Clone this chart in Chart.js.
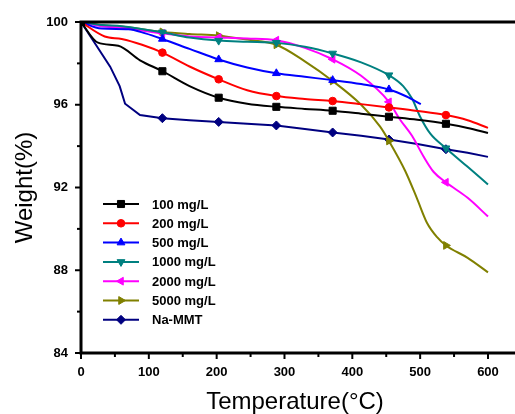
<!DOCTYPE html>
<html>
<head>
<meta charset="utf-8">
<script src="https://cdn.jsdelivr.net/npm/chart.js@4"></script>
<style>
  html, body { margin: 0; padding: 0; background: #fff; overflow: hidden; }
  canvas { display: block; }
</style>
</head>
<body>
<canvas id="tga" width="515" height="414"></canvas>
<script>
// temperatures (°C) and weight (%)
const t100 = [0, 25, 55, 87, 120, 160, 203, 245, 288, 330, 371, 413, 454, 496, 538, 570, 600];
const w100 = [100, 99.0, 98.85, 98.15, 97.62, 96.9, 96.34, 96.05, 95.9, 95.8, 95.71, 95.57, 95.42, 95.27, 95.08, 94.88, 94.63];

const t200 = [0, 35, 60, 90, 120, 160, 203, 245, 288, 330, 371, 413, 454, 496, 538, 570, 600];
const w200 = [100, 99.3, 99.18, 98.9, 98.52, 97.85, 97.23, 96.7, 96.42, 96.28, 96.18, 96.03, 95.87, 95.7, 95.5, 95.25, 94.88];

const t500 = [0, 30, 70, 95, 120, 160, 203, 245, 288, 330, 371, 413, 454, 480, 501];
const w500 = [100, 99.68, 99.65, 99.45, 99.18, 98.7, 98.19, 97.8, 97.52, 97.35, 97.19, 97.0, 96.74, 96.4, 96.03];

const t1000 = [0, 30, 60, 120, 160, 203, 245, 288, 330, 371, 413, 454, 475, 488, 500, 515, 538, 570, 600];
const w1000 = [100, 99.85, 99.8, 99.5, 99.25, 99.1, 99.05, 99.0, 98.8, 98.48, 98.05, 97.43, 96.9, 96.3, 95.42, 94.6, 93.9, 93.0, 92.15];

const t2000 = [0, 30, 60, 120, 160, 203, 245, 288, 330, 371, 413, 454, 470, 488, 505, 520, 538, 570, 600];
const w2000 = [100, 99.8, 99.72, 99.45, 99.3, 99.25, 99.2, 99.12, 98.75, 98.2, 97.4, 96.14, 95.3, 94.5, 93.5, 92.75, 92.25, 91.5, 90.6];

const t5000 = [0, 30, 60, 120, 160, 203, 245, 288, 330, 371, 413, 441, 454, 478, 495, 510, 525, 538, 570, 600];
const w5000 = [100, 99.85, 99.78, 99.52, 99.42, 99.34, 99.15, 98.9, 98.1, 97.15, 96.0, 94.94, 94.25, 92.8, 91.5, 90.3, 89.6, 89.2, 88.6, 87.9];

const tMMT = [0, 20, 43, 57, 65, 87, 120, 160, 203, 245, 288, 330, 371, 413, 454, 496, 538, 570, 600];
const wMMT = [100, 99.0, 97.84, 96.9, 96.05, 95.5, 95.35, 95.25, 95.17, 95.08, 95.0, 94.83, 94.66, 94.5, 94.32, 94.1, 93.85, 93.68, 93.48];

const markerTemps = [0, 120, 203, 288, 371, 454, 538];
const xTicks = [0, 50, 100, 150, 200, 250, 300, 350, 400, 450, 500, 550, 600];

const FONT = "Arial, 'Liberation Sans', sans-serif";

const series = [
  { label: "100 mg/L", t: t100, w: w100, color: "#000000", style: "rect", r: 5, rot: 0 },
  { label: "200 mg/L", t: t200, w: w200, color: "#ff0000", style: "circle", r: 3.8, rot: 0 },
  { label: "500 mg/L", t: t500, w: w500, color: "#0000ff", style: "triangle", r: 4.5, rot: 0 },
  { label: "1000 mg/L", t: t1000, w: w1000, color: "#008080", style: "triangle", r: 4.5, rot: 180 },
  { label: "2000 mg/L", t: t2000, w: w2000, color: "#ff00ff", style: "triangle", r: 4.5, rot: 270 },
  { label: "5000 mg/L", t: t5000, w: w5000, color: "#808000", style: "triangle", r: 4.5, rot: 90 },
  { label: "Na-MMT", t: tMMT, w: wMMT, color: "#000080", style: "rectRot", r: 4.5, rot: 0, straight: true }
];

const datasets = series.map(s => ({
  label: s.label,
  data: s.t.map((x, i) => ({ x, y: s.w[i] })),
  borderColor: s.color,
  backgroundColor: s.color,
  borderWidth: 2,
  pointStyle: s.style,
  rotation: s.rot,
  pointRadius: s.t.map(x => markerTemps.includes(x) ? s.r : 0),
  pointBorderWidth: 1,
  tension: s.straight ? 0 : 0.4,
  cubicInterpolationMode: s.straight ? "default" : "monotone"
}));

// frame, short outward ticks and the in-plot legend
const framePlugin = {
  id: "frame",
  afterDraw(chart) {
    const { ctx, chartArea: a, scales } = chart;
    ctx.save();
    ctx.strokeStyle = "#000";
    ctx.lineWidth = 2;
    scales.y.ticks.forEach(tk => {
      const py = scales.y.getPixelForValue(tk.value);
      const len = tk.value % 4 === 0 ? 6 : 4;
      ctx.beginPath(); ctx.moveTo(a.left - len, py); ctx.lineTo(a.left, py); ctx.stroke();
    });
    scales.x.ticks.forEach(tk => {
      const px = scales.x.getPixelForValue(tk.value);
      const len = tk.value % 100 === 0 ? 6 : 4;
      ctx.beginPath(); ctx.moveTo(px, a.bottom); ctx.lineTo(px, a.bottom + len); ctx.stroke();
    });
    // the frame runs off the right edge of the picture
    ctx.lineWidth = 3;
    ctx.beginPath();
    ctx.moveTo(chart.width, a.top); ctx.lineTo(a.left, a.top);
    ctx.lineTo(a.left, a.bottom); ctx.lineTo(chart.width, a.bottom);
    ctx.stroke();

    // legend
    const lx = 103, ly = 204, gap = 19.3;
    ctx.font = "bold 13px " + FONT;
    ctx.textBaseline = "middle";
    ctx.textAlign = "left";
    chart.data.datasets.forEach((ds, i) => {
      const y = ly + i * gap;
      ctx.strokeStyle = ds.borderColor;
      ctx.lineWidth = 2;
      ctx.beginPath(); ctx.moveTo(lx, y); ctx.lineTo(lx + 36, y); ctx.stroke();
      ctx.fillStyle = ds.backgroundColor;
      ctx.lineWidth = 1;
      Chart.helpers.drawPoint(ctx, { pointStyle: ds.pointStyle, rotation: ds.rotation, radius: series[i].r, borderWidth: 1 }, lx + 18, y);
      ctx.fillStyle = "#000";
      ctx.fillText(ds.label, lx + 49, y + 1);
    });
    ctx.restore();
  }
};

new Chart(document.getElementById("tga").getContext("2d"), {
  type: "line",
  data: { datasets },
  options: {
    responsive: false,
    animation: false,
    layout: { padding: { left: 0, top: 22, right: 0, bottom: 0 } },
    plugins: { legend: { display: false }, tooltip: { enabled: false } },
    scales: {
      x: {
        type: "linear",
        min: 0,
        max: 631,
        afterFit: s => { s.height = 61; },
        afterBuildTicks: s => { s.ticks = xTicks.map(v => ({ value: v })); },
        grid: { display: false, drawTicks: false },
        border: { display: false },
        ticks: {
          autoSkip: false,
          maxRotation: 0,
          padding: 12,
          color: "#000",
          font: { family: FONT, size: 13, weight: "bold" },
          callback: v => v % 100 === 0 ? v : ""
        },
        title: {
          display: true,
          text: "Temperature(°C)",
          color: "#000",
          font: { family: FONT, size: 24, lineHeight: 1 },
          padding: { top: 0, bottom: 0 }
        }
      },
      y: {
        min: 84,
        max: 100,
        afterFit: s => { s.width = 81; },
        grid: { display: false, drawTicks: false },
        border: { display: false },
        ticks: {
          stepSize: 2,
          padding: 13,
          color: "#000",
          font: { family: FONT, size: 13, weight: "bold" },
          callback: v => v % 4 === 0 ? v : ""
        },
        title: {
          display: true,
          text: "Weight(%)",
          color: "#000",
          font: { family: FONT, size: 24, lineHeight: 1 },
          padding: { top: 13, bottom: 0 }
        }
      }
    }
  },
  plugins: [framePlugin]
});
</script>
</body>
</html>
